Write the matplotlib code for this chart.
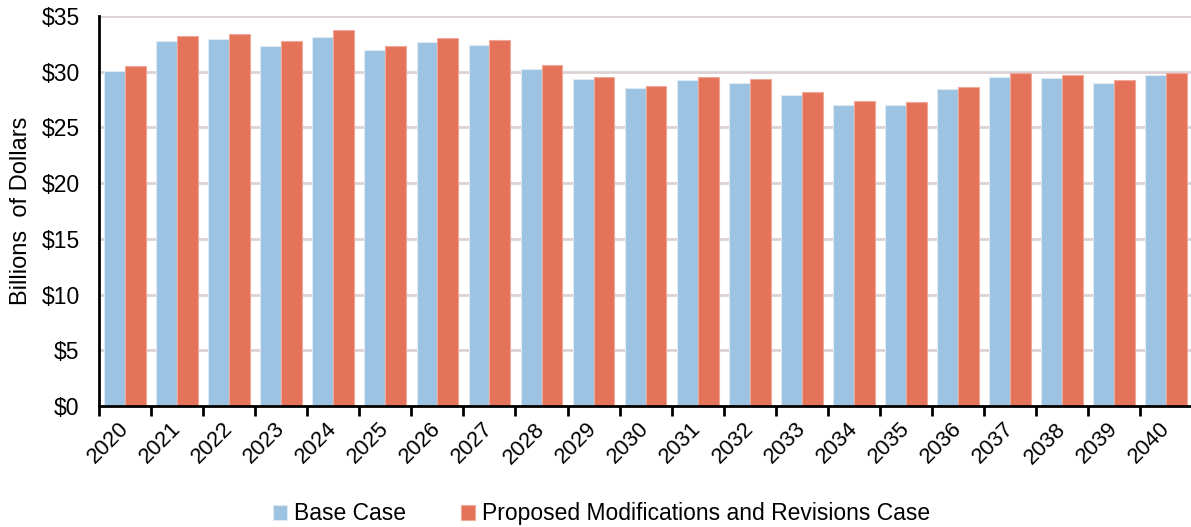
import numpy as np
import matplotlib.pyplot as plt
import matplotlib.transforms as mtransforms
from matplotlib.ticker import FuncFormatter, MultipleLocator

plt.rcParams['font.family'] = ['Liberation Sans', 'DejaVu Sans']

years = [str(y) for y in range(2020, 2041)]
base_case = [30.03, 32.78, 32.90, 32.33, 33.11, 31.97, 32.66, 32.42, 30.24, 29.31,
             28.50, 29.22, 28.98, 27.93, 27.00, 27.00, 28.41, 29.55, 29.43, 28.98, 29.67]
proposed_case = [30.48, 33.23, 33.35, 32.78, 33.71, 32.30, 33.00, 32.87, 30.57, 29.55,
                 28.74, 29.55, 29.31, 28.17, 27.36, 27.25, 28.62, 29.91, 29.67, 29.22, 29.91]

blue = '#9dc3e2'
orange = '#e5735a'

fig = plt.figure(figsize=(11.91, 5.27), dpi=100)
ax = fig.add_axes([0.0831, 0.2296, 0.9180, 0.74])

x = np.arange(len(years))
w = 0.4
ax.bar(x - w / 2, base_case, w, color=blue, edgecolor='#dfeaf4', linewidth=0.8,
       label='Base Case', zorder=3)
ax.bar(x + w / 2, proposed_case, w, color=orange, edgecolor='#f0a898', linewidth=0.8,
       label='Proposed Modifications and Revisions Case', zorder=3)

ax.set_xlim(-0.5, len(years) - 0.5)
ax.set_ylim(0, 35)
ax.yaxis.set_major_locator(MultipleLocator(5))
ax.yaxis.set_major_formatter(FuncFormatter(lambda v, p: f'${v:.0f}'))
ax.grid(axis='y', color='#ddd1d6', linewidth=2, zorder=0)

ax.set_xticks(x)
ax.set_xticklabels(years, rotation=45, ha='right', rotation_mode='anchor')
ax.set_xticks(np.arange(len(years) + 1) - 0.5, minor=True)
ax.tick_params(axis='x', which='major', length=0, pad=9, labelsize=15.8)
ax.tick_params(axis='x', which='minor', length=7, width=2, color='black')
ax.tick_params(axis='y', length=0, pad=14, labelsize=16.5)

# nudge the rotated year labels a little to the left
shift = mtransforms.ScaledTranslation(-0.07, 0, fig.dpi_scale_trans)
for lab in ax.get_xticklabels():
    lab.set_transform(lab.get_transform() + shift)

for s in ['top', 'right']:
    ax.spines[s].set_visible(False)
for s in ['left', 'bottom']:
    ax.spines[s].set_linewidth(2)
    ax.spines[s].set_zorder(4)

ax.set_ylabel('Billions  of Dollars', fontsize=17)
ax.yaxis.set_label_coords(-0.061, 0.5)

fig.legend(loc='lower center', bbox_to_anchor=(0.505, -0.036), ncol=2, frameon=False,
           fontsize=16.5, handlelength=0.62, handleheight=0.62, handletextpad=0.3,
           columnspacing=2.4)

fig.savefig('out.png', dpi=100)
